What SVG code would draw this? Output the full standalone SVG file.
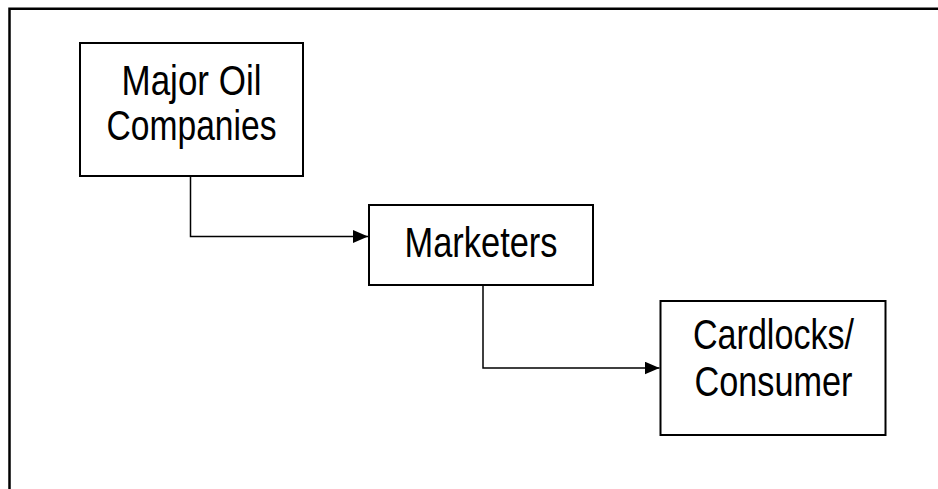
<svg xmlns="http://www.w3.org/2000/svg" width="938" height="489" viewBox="0 0 938 489">
  <style>
    .box { fill: #ffffff; stroke: #000000; stroke-width: 2; }
    .lbl { font-family: "Liberation Sans Narrow", "Arial Narrow", "Liberation Sans", Arial, sans-serif; font-size: 42px; fill: #000000; text-anchor: middle; }
    .conn { fill: none; stroke: #000000; stroke-width: 1.5; }
  </style>
  <defs>
    <marker id="arrow" markerUnits="userSpaceOnUse" markerWidth="16" markerHeight="14" refX="15" refY="6.5" orient="auto">
      <path d="M0,0 L15,6.5 L0,13 Z" fill="#000000"/>
    </marker>
  </defs>
  <rect width="938" height="489" fill="#ffffff"/>
  <g id="frame">
    <path d="M9.5,489 L9.5,8.7 L938,8.7" fill="none" stroke="#000000" stroke-width="2.5"/>
  </g>
  <g id="connectors">
    <path class="conn" d="M190.5,176 L190.5,236.5 L368,236.5" marker-end="url(#arrow)"/>
    <path class="conn" d="M483,285 L483,368 L659.5,368" marker-end="url(#arrow)"/>
  </g>
  <g id="node-major">
    <rect class="box" x="80" y="43" width="223" height="133"/>
    <text class="lbl" x="191.5" y="95" textLength="140" lengthAdjust="spacingAndGlyphs">Major Oil</text>
    <text class="lbl" x="191.5" y="140" textLength="170" lengthAdjust="spacingAndGlyphs">Companies</text>
  </g>
  <g id="node-marketers">
    <rect class="box" x="369" y="205" width="224" height="80"/>
    <text class="lbl" x="481" y="257" textLength="153" lengthAdjust="spacingAndGlyphs">Marketers</text>
  </g>
  <g id="node-cardlocks">
    <rect class="box" x="660.5" y="301" width="225" height="134"/>
    <text class="lbl" x="773.5" y="349" textLength="161" lengthAdjust="spacingAndGlyphs">Cardlocks/</text>
    <text class="lbl" x="773.5" y="396" textLength="158" lengthAdjust="spacingAndGlyphs">Consumer</text>
  </g>
</svg>
